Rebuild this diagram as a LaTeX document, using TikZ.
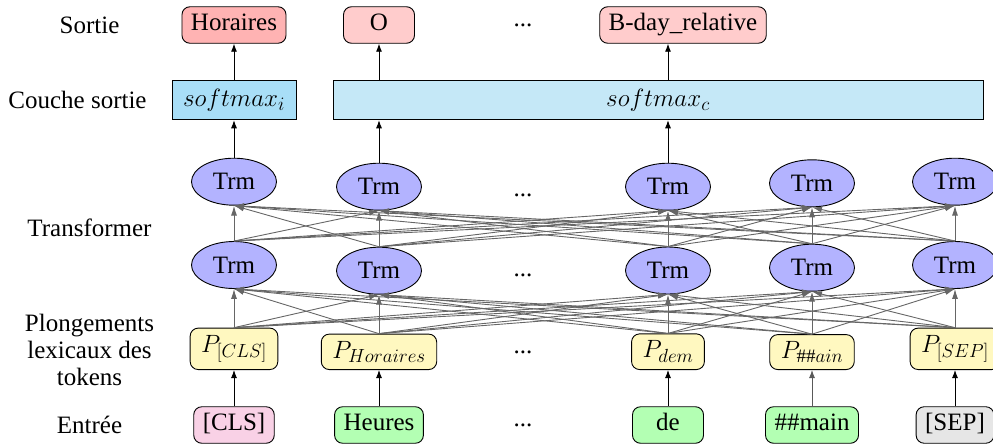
\RequirePackage{fix-cm}
\documentclass[tikz,border=0pt]{standalone}
\usepackage{fontspec}
\setmainfont{Liberation Serif}
\DeclareMathSizes{25}{25}{19}{14}
\usetikzlibrary{arrows.meta,shapes.geometric}
\definecolor{outA}{HTML}{FFB3B3}
\definecolor{outB}{HTML}{FFCCCC}
\definecolor{smI}{HTML}{A8DEF7}
\definecolor{smC}{HTML}{C5E8F7}
\definecolor{trmC}{HTML}{B3B3FF}
\definecolor{embC}{HTML}{FFF8C0}
\definecolor{clsC}{HTML}{F9D1E6}
\definecolor{tokC}{HTML}{B3FFB3}
\definecolor{sepC}{HTML}{E6E6E6}
\begin{document}
\begin{tikzpicture}[x=1pt,y=-1pt, font=\fontsize{25}{27}\selectfont,
 box/.style={draw=black, line width=0.9pt, rounded corners=8pt, inner xsep=9pt, inner ysep=6.5pt, text height=17.5pt, text depth=6pt, minimum width=71pt},
 emb/.style={draw=black, line width=0.9pt, rounded corners=8pt, fill=embC, inner xsep=11pt, inner ysep=7pt, anchor=south},
 trm/.style={ellipse, draw=black, line width=0.9pt, fill=trmC, minimum width=85pt, minimum height=47pt, inner sep=0pt},
 sm/.style={draw=black, line width=0.9pt, minimum height=39pt, inner sep=0pt},
 lab/.style={align=center, inner sep=0pt},
 dotsn/.style={inner sep=0pt},
 conn/.style={draw=gray!80!black, line width=0.9pt, -{Latex[length=10pt,width=6pt]}},
 arr/.style={draw=black, line width=0.9pt, -{Latex[length=8pt,width=6pt]}}
]
\useasboundingbox (0,0) rectangle (993,445);
\clip (0,0) rectangle (993,445);

% left labels
\node[lab] (lS) at (89.5,25) {Sortie};
\node[lab] (lC) at (77.5,100) {Couche sortie};
\node[lab] (lT) at (89.5,228) {Transformer};
\node[lab] (lP) at (89.5,350) {Plongements\\lexicaux des\\tokens};
\node[lab] (lE) at (89.5,425) {Entrée};

% outputs
\node[box, fill=outA] (o1) at (234,25) {Horaires};
\node[box, fill=outB] (o2) at (379,25) {O};
\node[box, fill=outB] (o4) at (683,25) {B-day\_relative};
\node[dotsn] (d1) at (523,25) {...};

% softmax layer
\node[sm, fill=smI, minimum width=124pt] (si) at (234,100.3) {$softmax_i$};
\node[sm, fill=smC, minimum width=650pt] (sc) at (658,100.3) {$softmax_c$};

% transformer upper layer
\node[trm] (tb1) at (234,181.7) {Trm};
\node[trm] (tb2) at (379,186.7) {Trm};
\node[trm] (tb3) at (668,186.7) {Trm};
\node[trm] (tb4) at (812,183.3) {Trm};
\node[trm] (tb5) at (955,181.7) {Trm};
\node[dotsn] (d2) at (523,195) {...};

% transformer lower layer
\node[trm] (ta1) at (234,265) {Trm};
\node[trm] (ta2) at (379,270.7) {Trm};
\node[trm] (ta3) at (668,270.5) {Trm};
\node[trm] (ta4) at (812,267.7) {Trm};
\node[trm] (ta5) at (955,265) {Trm};
\node[dotsn] (d3) at (523,275) {...};

% embeddings
\node[emb] (p1) at (234,370) {$P_{[CLS]}$};
\node[emb] (p2) at (379,370) {$P_{Horaires}$};
\node[emb] (p3) at (668,370) {$P_{dem}$};
\node[emb] (p4) at (812,370) {$P_{\#\#ain}$};
\node[emb] (p5) at (955,370) {$P_{[SEP]}$};
\node[dotsn] (d4) at (523,352) {...};

% inputs
\node[box, fill=clsC] (i1) at (234,425) {[CLS]};
\node[box, fill=tokC] (i2) at (379,425) {Heures};
\node[box, fill=tokC] (i3) at (668,425) {de};
\node[box, fill=tokC] (i4) at (812,425) {\#\#main};
\node[box, fill=sepC] (i5) at (955,425) {[SEP]};
\node[dotsn] (d5) at (523,425) {...};

% input -> embedding
\draw[arr] (i1.north) -- (p1.south);
\draw[arr] (i2.north) -- (p2.south);
\draw[arr] (i3.north) -- (p3.south);
\draw[arr, draw=gray!70!black] (i4.north) -- (p4.south);
\draw[arr] (i5.north) -- (p5.south);

% all-to-all connections
\foreach \a in {1,...,5}{
  \foreach \b in {1,...,5}{
    \draw[conn] (p\a.north) -- (ta\b.south);
    \draw[conn] (ta\a.north) -- (tb\b.south);
  }
}

% to outputs
\draw[arr] (tb1.north) -- (si.south);
\draw[arr] (si.north) -- (o1.south);
\draw[arr] (tb2.north) -- (sc.south -| tb2.north);
\draw[arr] (sc.north -| o2.south) -- (o2.south);
\draw[arr] (tb3.north) -- (sc.south -| tb3.north);
\draw[arr] (sc.north -| tb3.north) -- (o4.south -| tb3.north);
\end{tikzpicture}
\end{document}
